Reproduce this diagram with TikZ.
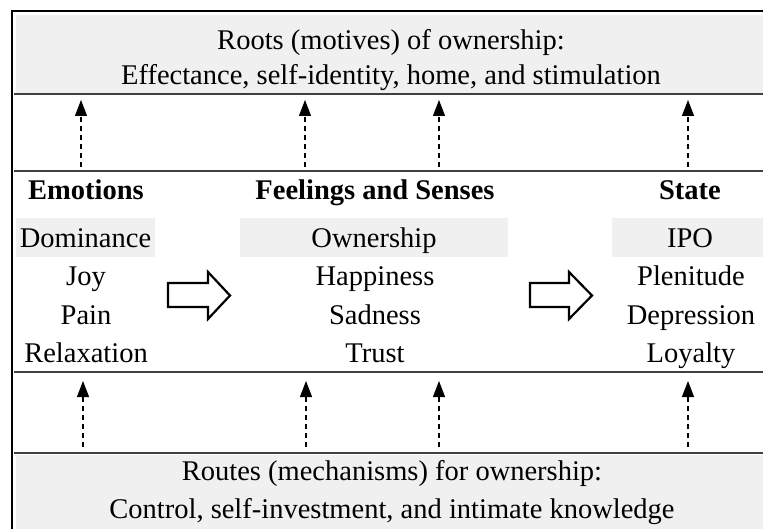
\documentclass[tikz,border=0pt]{standalone}
\usepackage{fontspec}
\setmainfont{Liberation Serif}
\usetikzlibrary{arrows.meta}

\begin{document}
\begin{tikzpicture}[x=1pt,y=-1pt]
      \tikzstyle{bande}=[fill=black!6]
      \tikzstyle{trait}=[draw=black!75, line width=2.5pt]
      \tikzstyle{texte}=[font=\fontsize{28.5}{35}\selectfont, inner sep=0pt, anchor=base]
      \tikzstyle{titre}=[texte, align=center]
      \tikzstyle{entete}=[texte, font=\fontsize{28.5}{35}\selectfont\bfseries]
      \tikzstyle{grise}=[texte, fill=black!6, text height=30pt, text depth=9pt]
      \tikzstyle{fleche}=[-{Triangle[length=16pt,width=12pt]}, dash pattern=on 5pt off 4pt, line width=1.2pt]
      \tikzstyle{bloc}=[draw, line width=2.2pt, line join=miter, fill=white]

      \useasboundingbox (0,0) rectangle (763,529);
      \clip (0,0) rectangle (763,529);

      % cadre et bandeaux
      \fill[bande] (16,15) rectangle (775,94);
      \fill[bande] (16,455) rectangle (775,529);
      \draw[line width=2pt] (12,540) -- (12,11) -- (775,11);
      \draw[trait] (14,94) -- (775,94);
      \draw[trait] (14,171) -- (775,171);
      \draw[trait] (14,372) -- (775,372);
      \draw[trait] (14,453) -- (775,453);

      % la ligne de base est celle de la derniere ligne
      \node[titre] (Roots) at (391,85) {Roots (motives) of ownership:\\Effectance, self-identity, home, and stimulation};
      \node[titre, font=\fontsize{28.5}{38}\selectfont] (Routes) at (392,518) {Routes (mechanisms) for ownership:\\Control, self-investment, and intimate knowledge};

      % colonnes
      \node[entete] (Emo) at (86,200) {Emotions};
      \node[grise, minimum width=139pt] (Dom) at (85.5,248) {Dominance};
      \node[texte] (Joy) at (86,286) {Joy};
      \node[texte] (Pain) at (86,324) {Pain};
      \node[texte] (Relax) at (86,362) {Relaxation};

      \node[entete] (Feel) at (375,200) {Feelings and Senses};
      \node[grise, minimum width=268pt] (Own) at (374,248) {Ownership};
      \node[texte] (Happy) at (375,286) {Happiness};
      \node[texte] (Sad) at (375,324) {Sadness};
      \node[texte] (Trust) at (375,362) {Trust};

      \node[entete] (State) at (690,200) {State};
      \node[grise, minimum width=156pt] (IPO) at (690,248) {IPO};
      \node[texte] (Plen) at (691,286) {Plenitude};
      \node[texte] (Depr) at (691,324) {Depression};
      \node[texte] (Loyal) at (691,362) {Loyalty};

      % grosses fleches
      \draw[bloc] (168,283) -- (208,283) -- (208,272) -- (230,295.5) -- (208,319) -- (208,307) -- (168,307) -- cycle;
      \draw[bloc] (530,283) -- (569,283) -- (569,272) -- (592,295.5) -- (569,319) -- (569,307) -- (530,307) -- cycle;

      % fleches vers les racines
      \coordinate (hEmo) at (81,100);  \coordinate (bEmo) at (81,167);
      \coordinate (hOwn) at (305,100); \coordinate (bOwn) at (305,167);
      \coordinate (hSen) at (439,100); \coordinate (bSen) at (439,167);
      \coordinate (hSta) at (688,100); \coordinate (bSta) at (688,167);
      \draw[fleche] (bEmo)--(hEmo);
      \draw[fleche] (bOwn)--(hOwn);
      \draw[fleche] (bSen)--(hSen);
      \draw[fleche] (bSta)--(hSta);

      % fleches depuis les routes
      \coordinate (rEmo) at (83,381);  \coordinate (sEmo) at (83,447);
      \coordinate (rOwn) at (306,381); \coordinate (sOwn) at (306,447);
      \coordinate (rSen) at (439,381); \coordinate (sSen) at (439,447);
      \coordinate (rSta) at (688,381); \coordinate (sSta) at (688,447);
      \draw[fleche] (sEmo)--(rEmo);
      \draw[fleche] (sOwn)--(rOwn);
      \draw[fleche] (sSen)--(rSen);
      \draw[fleche] (sSta)--(rSta);

    \end{tikzpicture}
\end{document}
